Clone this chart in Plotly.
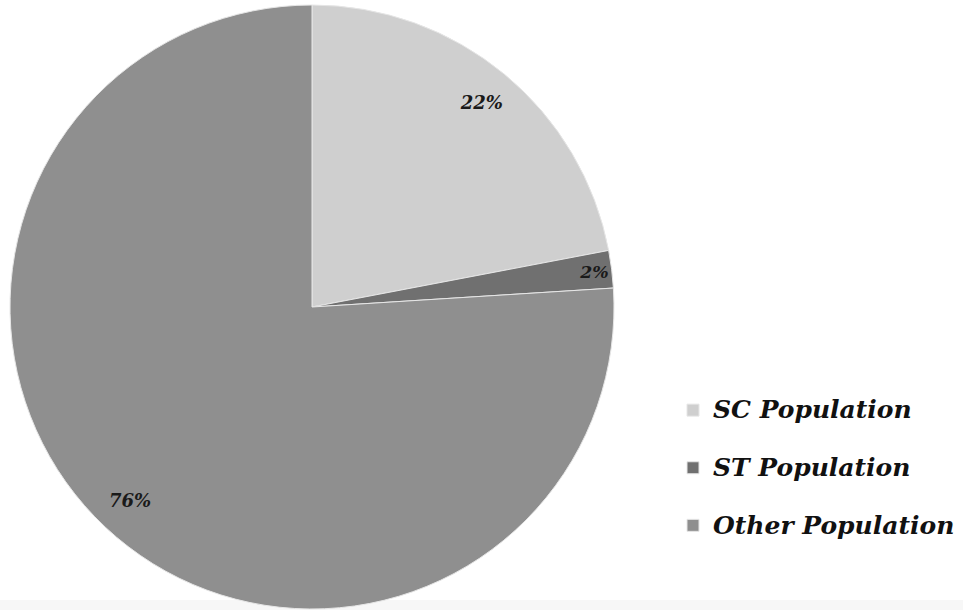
import plotly.graph_objects as go

categories = ["SC Population", "ST Population", "Other Population"]
values = [22, 2, 76]
colors = ["#cfcfcf", "#707070", "#8f8f8f"]

W, H = 963, 610
dom_x = [10 / W, 614 / W]
dom_y = [1 - 609 / H, 1 - 5 / H]

fig = go.Figure()

# main pie (colours + legend)
fig.add_trace(go.Pie(
    labels=['<span style="font-size:25px">' + c + "</span><br>" for c in categories],
    values=values,
    sort=False,
    direction="clockwise",
    rotation=0,
    marker=dict(colors=colors, line=dict(color="#e6e6e6", width=1)),
    textinfo="none",
    hoverinfo="percent",
    domain=dict(x=dom_x, y=dom_y),
    showlegend=True,
))

# transparent ring overlay, only used to place the percentage labels near the rim
fig.add_trace(go.Pie(
    labels=categories,
    values=values,
    sort=False,
    direction="clockwise",
    rotation=0,
    hole=0.76,
    marker=dict(colors=["rgba(0,0,0,0)"] * len(values), line=dict(width=0)),
    texttemplate="%{percent:.0%}",
    textposition="inside",
    insidetextorientation="horizontal",
    insidetextfont=dict(family="DejaVu Serif", size=18, color="#1a1a1a",
                        weight="bold", style="italic"),
    hoverinfo="skip",
    domain=dict(x=dom_x, y=dom_y),
    showlegend=False,
))

fig.update_layout(
    width=W, height=H,
    margin=dict(l=0, r=0, t=0, b=0),
    paper_bgcolor="white",
    plot_bgcolor="white",
    showlegend=True,
    legend=dict(
        x=673 / W, xanchor="left",
        y=1 - 390 / H, yanchor="top",
        valign="top",
        font=dict(family="DejaVu Serif", size=21, color="#111111",
                  weight="bold", style="italic"),
        bgcolor="rgba(0,0,0,0)",
        itemclick=False,
    ),
    shapes=[dict(type="rect", xref="paper", yref="paper", x0=0, x1=1,
                 y0=0, y1=10 / H, fillcolor="#f7f7f7", line=dict(width=0),
                 layer="below")],
)

fig.write_html("out.html", config={"displayModeBar": False})

# remove the default 8px page margin so the figure sits at the window origin
with open("out.html", "r", encoding="utf-8") as f:
    html = f.read()
html = html.replace("<body>", '<body style="margin:0;padding:0;">', 1)
with open("out.html", "w", encoding="utf-8") as f:
    f.write(html)
